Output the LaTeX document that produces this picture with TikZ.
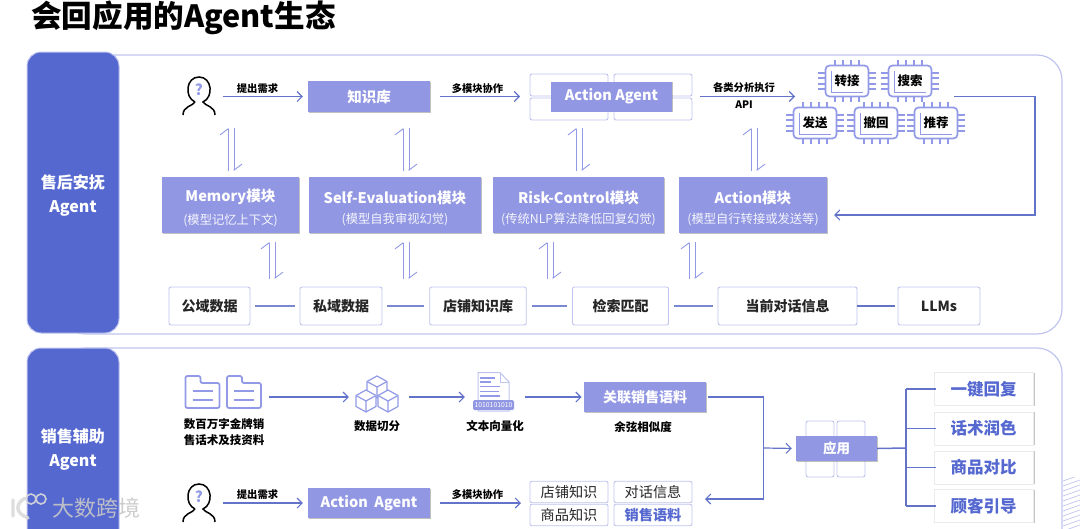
\documentclass[tikz,border=0pt]{standalone}
\usepackage{fontspec}
\setmainfont{Noto Sans CJK SC}
\usetikzlibrary{arrows.meta,shadows,calc}
\definecolor{bandblue}{HTML}{5568D0}
\definecolor{boxblue}{HTML}{9297E3}
\definecolor{linkblue}{HTML}{6373C9}
\definecolor{paleedge}{HTML}{BEC4EE}
\definecolor{iconblue}{HTML}{929AE8}
\definecolor{inkdark}{HTML}{262626}
\newcommand{\modtext}[2]{\rule{0pt}{19pt}{\fontsize{14.6}{19}\selectfont\bfseries #1}\\[8pt]{\fontsize{12.3}{14}\selectfont\color{white!90!boxblue}#2}}
\tikzset{
  pics/personicon/.style={code={
    \draw[line width=1.5pt,black] (-4,5) .. controls (-15,0) and (-13,-20) .. (0,-20)
      .. controls (13,-20) and (15,0) .. (4,5) .. controls (6,9) and (16,9) .. (16,18);
    \draw[line width=1.5pt,black] (-4,5) .. controls (-6,9) and (-16,9) .. (-16,18);
    \node[text=iconblue,inner sep=0pt,font=\fontsize{15}{15}\selectfont\bfseries] (-q) at (0,-7) {?};
  }},
  pics/chipicon/.style={code={
    \foreach \k in {-12,-4,4,12}{
      \draw[iconblue,line width=1.4pt] (\k,-15.5) -- (\k,-21);
      \draw[iconblue,line width=1.4pt] (\k,15.5) -- (\k,21);
    }
    \foreach \k in {-8,-3,3,8}{
      \draw[iconblue,line width=1.2pt] (-21.5,\k) -- (-29,\k);
      \draw[iconblue,line width=1.2pt] (21.5,\k) -- (29,\k);
    }
    \draw[iconblue,line width=1.7pt,rounded corners=4pt] (-21.5,-15.5) rectangle (21.5,15.5);
    \draw[iconblue,line width=0.6pt] (-16,-10) -- (-16,11) -- (16,11);
    \node[text=black,inner sep=0pt,font=\fontsize{12.5}{12.5}\selectfont\bfseries] (-t) at (0,0) {#1};
  }},
  pics/foldericon/.style={code={
    \draw[iconblue,line width=1.8pt,rounded corners=2pt] (-17,-16) -- (-2,-16) -- (-2,-9) -- (17,-9) -- (17,16) -- (-17,16) -- cycle;
    \draw[iconblue,line width=1.4pt] (-10,-1) -- (10,-1);
    \draw[iconblue,line width=1.4pt] (-10,8) -- (10,8);
  }},
  pics/cubeicon/.style={code={
    \draw[iconblue,line width=1.2pt,fill=white,line join=round] (0,-11) -- (10,-5.5) -- (10,5.5) -- (0,11) -- (-10,5.5) -- (-10,-5.5) -- cycle;
    \draw[iconblue,line width=1.2pt,line join=round] (-10,-5.5) -- (0,0) -- (10,-5.5) (0,0) -- (0,11);
  }}
}
\begin{document}
\begin{tikzpicture}[
  x=1pt, y=-1pt,
  band/.style={fill=bandblue, draw=paleedge, line width=1pt, rounded corners=14pt},
  panel/.style={draw=paleedge, line width=1.2pt, rounded corners=25pt},
  bandlabel/.style={text=white, inner sep=0pt, font=\fontsize{16}{16}\selectfont\bfseries},
  filledbox/.style={fill=boxblue, inner sep=0pt, drop shadow={shadow xshift=1.2pt,shadow yshift=-0.8pt,opacity=0.45,fill=black!55}},
  boxtext/.style={filledbox, text=white, font=\fontsize{14.5}{14.5}\selectfont\bfseries},
  modbox/.style={filledbox, minimum height=56pt, text=white, align=center},
  outlinebox/.style={draw=paleedge, fill=white, line width=0.9pt, rounded corners=2pt, inner sep=0pt},
  databox/.style={outlinebox, minimum height=38pt, text=inkdark, font=\fontsize{14}{14}\selectfont\bfseries},
  gridbox/.style={outlinebox, minimum width=78pt, minimum height=21.5pt, text=inkdark, font=\fontsize{14.2}{14.2}\selectfont},
  usebox/.style={draw=black!8, fill=white, inner sep=0pt, minimum width=99pt, minimum height=33pt, text=bandblue,
    font=\fontsize{16.5}{16.5}\selectfont\bfseries, drop shadow={shadow xshift=1.5pt,shadow yshift=0pt,opacity=0.5,fill=black!45}},
  iconslot/.style={inner sep=0pt, minimum height=16pt},
  tag/.style={inner sep=0pt, text=black, font=\fontsize{10.3}{10.3}\selectfont\bfseries},
  caption/.style={inner sep=0pt, text=black, align=center, font=\fontsize{11.5}{16}\selectfont\bfseries},
  conn/.style={draw=linkblue, line width=1.2pt},
  arr/.style={conn, -{Straight Barb[length=5pt,width=10pt,line width=1.1pt]}},
  rung/.style={conn, line width=1.1pt, draw=linkblue!85, shorten <=5pt, shorten >=5pt},
  harp/.style={draw=iconblue, line width=0.9pt, -{Straight Barb[harpoon,length=6pt,width=16pt,line width=0.9pt]}},
  tree/.style={draw=linkblue, line width=1.5pt}
]
  \clip (0,0) rectangle (1080,528);
  % ---- title ----
  \node[inner sep=0pt,anchor=west,text=black,font=\fontsize{30.6}{30.6}\selectfont\bfseries] (title) at (31,18) {会回应用的Agent生态};
  % ---- two panels + bands ----
  \draw[panel] (60,55) rectangle (1062,334);
  \draw[panel] (60,348) rectangle (1062,575);
  \draw[band] (27,52) rectangle (119,333);
  \draw[band] (27,348) rectangle (119,560);
  \node[bandlabel] (bandA) at (73,183) {售后安抚};
  \node[bandlabel] (bandAb) at (73,208) {Agent};
  \node[bandlabel] (bandB) at (73,436) {销售辅助};
  \node[bandlabel] (bandBb) at (73,462) {Agent};
  % ---- corner hatching ----
  \begin{scope}
    \clip (1063,477) rectangle (1080,528);
    \foreach \hy in {476,481,...,546}
      \draw[paleedge,line width=0.7pt] (1063,\hy) -- (1080,\hy-6);
  \end{scope}
  % ---- upper row ----
  \pic (user1) at (199,97) {personicon};
  \node[iconslot,minimum width=34pt] (ask1) at (199,96.5) {};
  \node[boxtext,minimum width=122pt,minimum height=31pt] (kb) at (369,96.5) {知识库};
  \draw[arr,shorten <=7pt,shorten >=5pt] (ask1.east) -- (kb.west);
  \node[tag] (askA) at (257.5,89) {提出需求};
  \node[outlinebox,minimum width=78pt,minimum height=22pt] (aa1) at (569,85) {};
  \node[outlinebox,minimum width=78pt,minimum height=22pt] (aa2) at (653,85) {};
  \node[outlinebox,minimum width=78pt,minimum height=22pt] (aa3) at (569,109) {};
  \node[outlinebox,minimum width=78pt,minimum height=22pt] (aa4) at (653,109) {};
  \node[boxtext,minimum width=121pt,minimum height=30pt] (act) at (611.5,96.5) {Action Agent};
  \coordinate (actin) at (520,96.5);
  \draw[arr,shorten <=10pt] (kb.east) -- (actin);
  \node[tag] (askB) at (477.5,89) {多模块协作};
  \coordinate (chipin) at (795,96.5);
  \coordinate (chipout) at (954,96.5);
  \draw[arr,shorten <=9pt] ($(act.east)+(19,0)$) -- (chipin);
  \node[tag] (askC) at (744,88) {各类分析执行};
  \node[tag] (askD) at (744,105) {API};
  \pic (c1) at (847,81) {chipicon=转接};
  \pic (c2) at (910,81) {chipicon=搜索};
  \pic (c3) at (815,123) {chipicon=发送};
  \pic (c4) at (876,123) {chipicon=撤回};
  \pic (c5) at (936,123) {chipicon=推荐};
  % ---- module row ----
  \node[modbox,minimum width=137pt] (mMem) at (230.5,205) {\modtext{Memory模块}{(模型记忆上下文)}};
  \node[modbox,minimum width=172pt] (mEval) at (395,205) {\modtext{Self-Evaluation模块}{(模型自我审视幻觉)}};
  \node[modbox,minimum width=171pt] (mRisk) at (578.5,205) {\modtext{Risk-Control模块}{(传统NLP算法降低回复幻觉)}};
  \node[modbox,minimum width=148pt] (mAct) at (753,205) {\modtext{Action模块}{(模型自行转接或发送等)}};
  \coordinate (turnr) at (1035,215);
  \coordinate (mActin) at (834,215);
  \draw[arr] (chipout) -| (turnr) -- (mActin);
  % ---- harpoon pairs ----
  \foreach \i/\hx/\hta/\htb in {1/231/128/171,2/406/128/171,3/579/128/171,4/754/128/171,5/272/242/279,6/406/242/279,7/550/242/279,8/692/242/279}{
    \coordinate (hup\i) at (\hx-3,\htb);
    \coordinate (hupe\i) at (\hx-3,\hta);
    \coordinate (hdn\i) at (\hx+3,\hta);
    \coordinate (hdne\i) at (\hx+3,\htb);
    \draw[harp] (hup\i) -- (hupe\i);
    \draw[harp] (hdn\i) -- (hdne\i);
  }
  % ---- data row ----
  \node[databox,minimum width=81pt] (d1) at (209.5,306) {公域数据};
  \node[databox,minimum width=82pt] (d2) at (341,306) {私域数据};
  \node[databox,minimum width=96.5pt] (d3) at (478,306) {店铺知识库};
  \node[databox,minimum width=96pt] (d4) at (620.5,306) {检索匹配};
  \node[databox,minimum width=139pt] (d5) at (787.5,306) {当前对话信息};
  \node[databox,minimum width=82pt] (d6) at (939,306) {LLMs};
  \draw[rung] (d1.east) -- (d2.west);
  \draw[rung] (d2.east) -- (d3.west);
  \draw[rung] (d3.east) -- (d4.west);
  \draw[rung] (d4.east) -- (d5.west);
  \draw[conn,shorten >=3pt] (d5.east) -- (d6.west);
  % ---- lower panel, upper line ----
  \pic (f1) at (202.5,392) {foldericon};
  \pic (f2) at (244,392) {foldericon};
  \node[iconslot,minimum width=77pt] (folders) at (223.5,397) {};
  \node[caption] (capF) at (224,432) {数百万字金牌销\\售话术及技资料};
  \pic (cb1) at (377,387) {cubeicon};
  \pic (cb2) at (366,401) {cubeicon};
  \pic (cb3) at (388,401) {cubeicon};
  \node[iconslot,minimum width=43pt] (cubes) at (377.5,397) {};
  \draw[arr,shorten <=7pt,shorten >=7pt] (folders.east) -- (cubes.west);
  \node[caption] (capC) at (377,426) {数据切分};
  % text file icon
  \draw[paleedge,line width=1pt,line join=round] (478,372.5) -- (500,372.5) -- (509,382) -- (509,411) -- (478,411) -- cycle;
  \draw[paleedge,line width=0.8pt] (500,372.5) -- (500,382) -- (509,382);
  \draw[iconblue,line width=1.1pt] (480,378) -- (495,378) (480,382) -- (491,382) (480,386.5) -- (500,386.5) (480,391.5) -- (499,391.5) (480,396) -- (500,396);
  \node[fill=boxblue,rounded corners=1.5pt,inner sep=0pt,minimum width=41pt,minimum height=10pt,text=white,font=\fontsize{6.8}{7}\selectfont] (bits) at (493.5,405) {1010101010};
  \node[iconslot,minimum width=41pt] (doc) at (493.5,397) {};
  \draw[arr,shorten <=10pt,shorten >=8pt] (cubes.east) -- (doc.west);
  \node[caption] (capD) at (495,426) {文本向量化};
  \node[boxtext,minimum width=122.5pt,minimum height=30pt,font=\fontsize{14}{14}\selectfont\bfseries] (sale) at (645,397) {关联销售语料};
  \draw[arr,shorten <=11pt,shorten >=2pt] (doc.east) -- (sale.west);
  \node[caption] (capS) at (643,427) {余弦相似度};
  % ---- lower panel, lower line ----
  \pic (user2) at (199,504) {personicon};
  \node[iconslot,minimum width=34pt] (ask2) at (199,503) {};
  \node[boxtext,minimum width=122pt,minimum height=30pt] (act2) at (369,503) {Action\ \ Agent};
  \draw[arr,shorten <=7pt,shorten >=5pt] (ask2.east) -- (act2.west);
  \node[tag] (askE) at (257.5,495) {提出需求};
  \node[gridbox] (g1) at (569,492) {店铺知识};
  \node[gridbox] (g2) at (653,492) {对话信息};
  \node[gridbox] (g3) at (569,515) {商品知识};
  \node[gridbox,text=bandblue,font=\fontsize{14.2}{14.2}\selectfont\bfseries] (g4) at (653,515) {销售语料};
  \coordinate (gridin) at (521,503);
  \draw[arr,shorten <=10pt] (act2.east) -- (gridin);
  \node[tag] (askF) at (477.5,495) {多模块协作};
  % ---- merge into application box ----
  \coordinate (jtop) at (763.5,397);
  \coordinate (jmid) at (763.5,448);
  \coordinate (jbot) at (763.5,499);
  \coordinate (gridout) at (705,499);
  \node[outlinebox,minimum width=28pt,minimum height=56pt] (ap1) at (820,449) {};
  \node[outlinebox,minimum width=28pt,minimum height=56pt] (ap2) at (851,449) {};
  \node[boxtext,minimum width=81pt,minimum height=25pt,font=\fontsize{13.5}{13.5}\selectfont\bfseries] (app) at (836.5,448.5) {应用};
  \draw[conn,shorten <=1.5pt] (sale.east) -- (jtop) -- (jbot);
  \draw[arr] (jbot) -- (gridout);
  \draw[arr,shorten >=4pt] (jmid) -- (app.west);
  % ---- usage tree ----
  \node[usebox] (r1) at (983.5,389) {一键回复};
  \node[usebox] (r2) at (983.5,428.5) {话术润色};
  \node[usebox] (r3) at (983.5,467.5) {商品对比};
  \node[usebox] (r4) at (983.5,506) {顾客引导};
  \coordinate (trunk) at (906,448);
  \draw[tree] (app.east) -- (trunk);
  \draw[tree] (r1.west -| trunk) -- (r4.west -| trunk);
  \foreach \r in {r1,r2,r3,r4}
    \draw[tree,shorten >=-2pt] (\r.west -| trunk) -- (\r.west);
  % ---- watermark ----
  \node[inner sep=0pt,anchor=west,text=black!22,opacity=0.9,font=\fontsize{22}{22}\selectfont] (mark) at (52,508) {大数跨境};
  \draw[black!15,line width=3.4pt,line cap=round,opacity=0.9] (13,500) -- (13,516) (25,498) .. controls (15,504) and (15,513) .. (28,518);
  \draw[black!15,line width=1.6pt,opacity=0.9] (31,499) circle (5) (41,499) circle (5);
\end{tikzpicture}
\end{document}
